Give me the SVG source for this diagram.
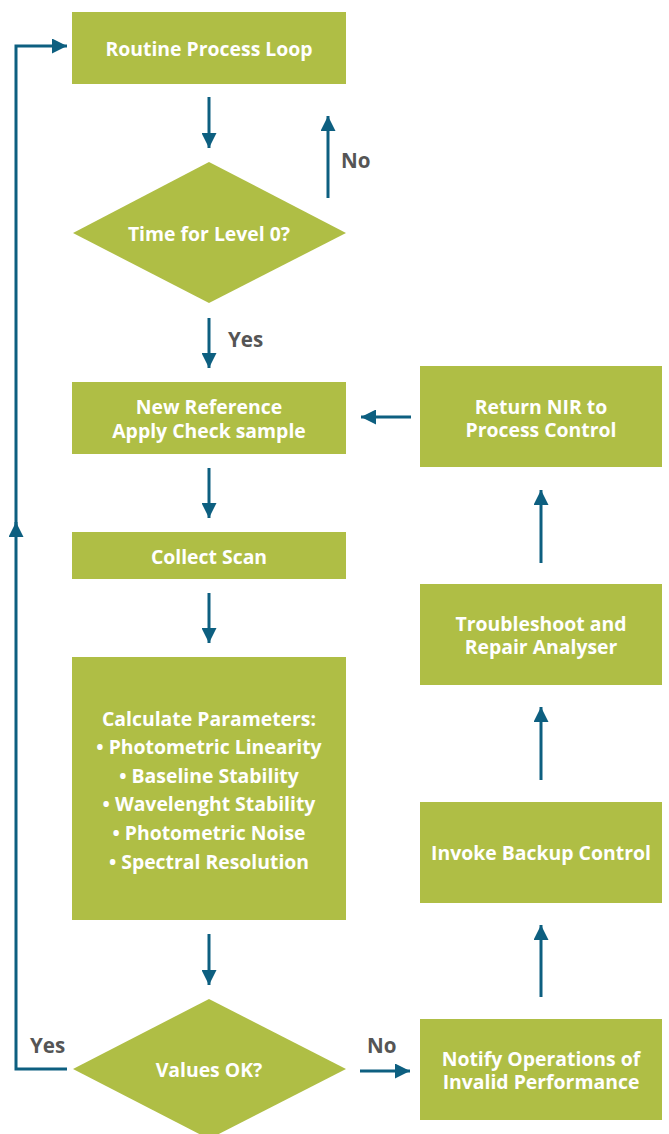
<svg xmlns="http://www.w3.org/2000/svg" width="669" height="1134" viewBox="0 0 669 1134">
<defs>
<style>
.n{fill:#afbe45}
.t{font-family:"Open Sans","Liberation Sans",sans-serif;font-weight:bold;font-size:19.4px;fill:#fff;text-anchor:middle;dominant-baseline:central}
.l{font-family:"Open Sans","Liberation Sans",sans-serif;font-weight:bold;font-size:20.6px;fill:#555;dominant-baseline:central}
.c{fill:none;stroke:#0d5f80;stroke-width:3}
</style>
<marker id="ah" viewBox="0 0 10 10" refX="10" refY="5" markerWidth="5" markerHeight="5" markerUnits="strokeWidth" orient="auto">
<path d="M0,0 L10,5 L0,10 z" fill="#0d5f80"/>
</marker>
</defs>
<rect width="669" height="1134" fill="#fff"/>
<g id="connectors">
<path class="c" d="M209,97 V148" marker-end="url(#ah)"/>
<path class="c" d="M328,198 V116" marker-end="url(#ah)"/>
<path class="c" d="M209,318 V368" marker-end="url(#ah)"/>
<path class="c" d="M209,468 V518" marker-end="url(#ah)"/>
<path class="c" d="M209,593 V643" marker-end="url(#ah)"/>
<path class="c" d="M209,934 V985" marker-end="url(#ah)"/>
<path class="c" d="M360,1071 H410" marker-end="url(#ah)"/>
<path class="c" d="M541,997 V925" marker-end="url(#ah)"/>
<path class="c" d="M541,780 V707" marker-end="url(#ah)"/>
<path class="c" d="M541,563 V490" marker-end="url(#ah)"/>
<path class="c" d="M411,417 H361" marker-end="url(#ah)"/>
<path class="c" d="M67,1069 H16 V522" marker-end="url(#ah)"/>
<path class="c" d="M16,530 V46 H67" marker-end="url(#ah)"/>
<text class="l" x="341" y="160">No</text>
<text class="l" x="228" y="339">Yes</text>
<text class="l" x="30" y="1045">Yes</text>
<text class="l" x="367" y="1045">No</text>
</g>
<g id="routine">
<rect class="n" x="72" y="12" width="274" height="72"/>
<text class="t" x="209" y="48">Routine Process Loop</text>
</g>
<g id="time-level0">
<polygon class="n" points="209,162 346,233 209,303 73,233"/>
<text class="t" x="209" y="233">Time for Level 0?</text>
</g>
<g id="new-reference">
<rect class="n" x="72" y="382" width="274" height="72"/>
<text class="t"><tspan x="209" y="406">New Reference</tspan><tspan x="209" y="430">Apply Check sample</tspan></text>
</g>
<g id="collect-scan">
<rect class="n" x="72" y="532" width="274" height="47"/>
<text class="t" x="209" y="556">Collect Scan</text>
</g>
<g id="calculate">
<rect class="n" x="72" y="657" width="274" height="263"/>
<text class="t"><tspan x="209" y="718">Calculate Parameters:</tspan><tspan x="209" y="746">• Photometric Linearity</tspan><tspan x="209" y="775">• Baseline Stability</tspan><tspan x="209" y="803">• Wavelenght Stability</tspan><tspan x="209" y="832">• Photometric Noise</tspan><tspan x="209" y="861">• Spectral Resolution</tspan></text>
</g>
<g id="values-ok">
<polygon class="n" points="209,999 346,1069 209,1139 73,1069"/>
<text class="t" x="209" y="1069">Values OK?</text>
</g>
<g id="notify">
<rect class="n" x="420" y="1019" width="242" height="101"/>
<text class="t"><tspan x="541" y="1058">Notify Operations of</tspan><tspan x="541" y="1081">Invalid Performance</tspan></text>
</g>
<g id="invoke-backup">
<rect class="n" x="420" y="802" width="242" height="101"/>
<text class="t" x="541" y="852">Invoke Backup Control</text>
</g>
<g id="troubleshoot">
<rect class="n" x="420" y="584" width="242" height="101"/>
<text class="t"><tspan x="541" y="623">Troubleshoot and</tspan><tspan x="541" y="646">Repair Analyser</tspan></text>
</g>
<g id="return-nir">
<rect class="n" x="420" y="366" width="242" height="101"/>
<text class="t"><tspan x="541" y="406">Return NIR to</tspan><tspan x="541" y="429">Process Control</tspan></text>
</g>
</svg>
